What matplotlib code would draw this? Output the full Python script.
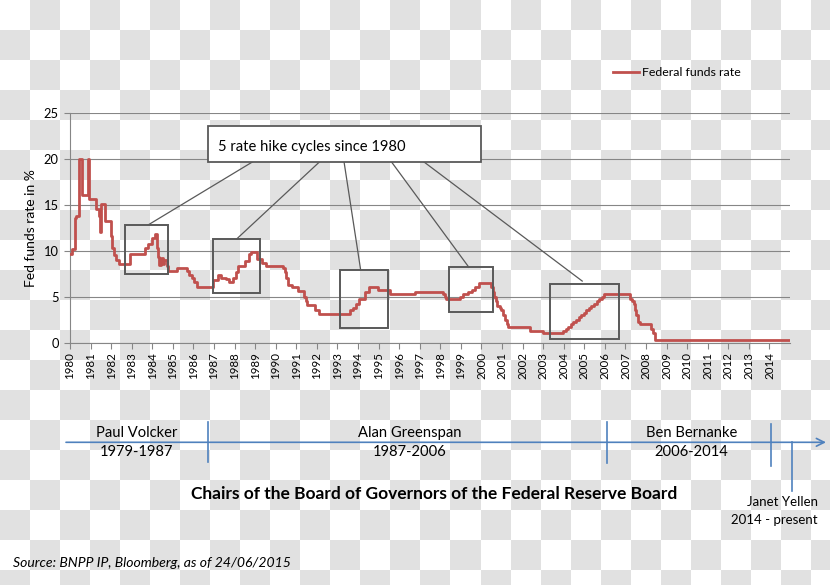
import numpy as np
import matplotlib
matplotlib.use("Agg")
import matplotlib.pyplot as plt
from matplotlib.colors import ListedColormap
from matplotlib.patches import Rectangle

plt.rcParams['font.family'] = ['Lato', 'DejaVu Sans']

# Federal funds rate (change date, new level in %)
dates = [1980.00, 1980.12, 1980.24, 1980.30, 1980.42, 1980.56, 1980.86, 1980.94,
         1981.25, 1981.40, 1981.44, 1981.50, 1981.72, 1981.98, 1982.05, 1982.12,
         1982.25, 1982.40, 1982.93, 1983.66, 1983.80, 1983.98, 1984.15, 1984.22,
         1984.28, 1984.35, 1984.42, 1984.50, 1984.58, 1984.70, 1984.78, 1985.18,
         1985.67, 1985.80, 1985.92, 1986.05, 1986.18, 1986.67, 1986.96, 1987.20,
         1987.32, 1987.60, 1987.75, 1987.92, 1988.05, 1988.15, 1988.52, 1988.68,
         1988.80, 1989.07, 1989.35, 1989.52, 1990.36, 1990.44, 1990.52, 1990.60,
         1990.80, 1991.10, 1991.38, 1991.45, 1991.50, 1991.90, 1992.10, 1993.60,
         1993.75, 1993.88, 1994.05, 1994.35, 1994.55, 1994.98, 1995.55, 1996.76,
         1998.15, 1998.22, 1998.30, 1998.94, 1999.12, 1999.35, 1999.55, 1999.70,
         1999.88, 2000.48, 2000.55, 2000.62, 2000.70, 2000.78, 2000.88, 2000.95,
         2001.05, 2001.15, 2001.22, 2001.30, 2002.34, 2002.97, 2003.96, 2004.09,
         2004.21, 2004.34, 2004.46, 2004.59, 2004.72, 2004.84, 2004.97, 2005.09,
         2005.22, 2005.35, 2005.47, 2005.60, 2005.72, 2005.85, 2005.98, 2007.20,
         2007.30, 2007.40, 2007.48, 2007.52, 2007.62, 2007.70, 2008.25, 2008.32,
         2008.42, 2015.00]
rates = [9.6, 10.2, 13.6, 13.8, 20.0, 16.1, 20.0, 15.6,
         14.5, 13.8, 12.0, 15.1, 13.2, 11.6, 10.3, 9.5,
         9.0, 8.6, 9.6, 10.3, 10.7, 11.4, 11.8, 10.3,
         9.3, 8.5, 9.2, 8.6, 9.0, 8.3, 7.8, 8.1,
         7.8, 7.4, 7.0, 6.6, 6.0, 6.1, 6.85, 7.4,
         7.0, 6.9, 6.6, 7.0, 7.7, 8.3, 8.9, 9.6,
         9.9, 9.1, 8.7, 8.3, 8.1, 7.7, 7.0, 6.3,
         6.0, 5.6, 5.0, 4.5, 4.1, 3.6, 3.1, 3.5,
         3.75, 4.25, 4.75, 5.5, 6.0, 5.75, 5.25, 5.5,
         5.25, 5.0, 4.75, 5.0, 5.25, 5.5, 5.75, 6.0,
         6.5, 6.0, 5.5, 5.0, 4.5, 4.0, 3.75, 3.5,
         3.0, 2.5, 2.0, 1.75, 1.25, 1.0, 1.25, 1.5,
         1.75, 2.0, 2.25, 2.5, 2.75, 3.0, 3.25, 3.5,
         3.75, 4.0, 4.25, 4.5, 4.75, 5.0, 5.25, 4.75,
         4.5, 4.25, 3.5, 3.0, 2.25, 2.0, 1.5, 1.0,
         0.25, 0.25]

years = list(range(1980, 2015))

# the five hike cycles: (start, end, low, high)
cycles = [(1982.67, 1984.77, 7.5, 12.8),
          (1986.96, 1989.26, 5.4, 11.3),
          (1993.11, 1995.48, 1.57, 7.9),
          (1998.42, 2000.57, 3.28, 8.2),
          (2003.31, 2006.71, 0.36, 6.43)]
# where each pointer leaves the callout box and where it lands
pointer_from = [1988.89, 1992.14, 1993.32, 1995.62, 1997.19]
pointer_to = [(1983.79, 12.8), (1988.11, 11.3), (1994.13, 7.9),
              (1999.39, 8.2), (2004.90, 6.7)]

chairs = ["Paul Volcker", "Alan Greenspan", "Ben Bernanke"]
terms = ["1979-1987", "1987-2006", "2006-2014"]

grid_col = '#868686'
red = '#C0504D'
blue = '#4F81BD'
dark = '#595959'

fig = plt.figure(figsize=(8.3, 5.85), dpi=100)

# checkered background
bg = fig.add_axes([0, 0, 1, 1], zorder=0)
cells = np.add.outer(np.arange(20), np.arange(28)) % 2
bg.imshow(cells, cmap=ListedColormap(['white', '#e1e1e1']),
          extent=(0, 840, 600, 0), interpolation='nearest', aspect='auto')
bg.set_xlim(0, 830)
bg.set_ylim(585, 0)
bg.axis('off')

ax = fig.add_axes([70 / 830, (585 - 342.6) / 585, 720 / 830, (342.6 - 113) / 585], zorder=1)
ax.set_facecolor('none')
ax.step(dates, rates, where='post', color=red, lw=2, label='Federal funds rate', zorder=3)

ax.set_xlim(1980, 2015)
ax.set_ylim(0, 25)
ax.set_xticks(years)
ax.set_xticklabels([str(y) for y in years], rotation=90, fontsize=8.3)
ax.set_yticks(range(0, 26, 5))
ax.tick_params(axis='y', labelsize=9.3, length=4, color=grid_col, pad=4)
ax.tick_params(axis='x', length=4, color=grid_col, pad=3)
ax.grid(axis='y', color=grid_col, lw=0.8)
ax.set_axisbelow(True)
for side in ['top', 'right']:
    ax.spines[side].set_visible(False)
for side in ['left', 'bottom']:
    ax.spines[side].set_color(grid_col)
    ax.spines[side].set_linewidth(0.8)
ax.set_ylabel('Fed funds rate in %', fontsize=10, labelpad=5)

# callout box and pointers
ax.add_patch(Rectangle((1986.70, 19.7), 13.26, 3.85, facecolor='white',
                       edgecolor=dark, lw=1.3, zorder=5, clip_on=False))
ax.text(1987.2, 20.85, '5 rate hike cycles since 1980', fontsize=10.6, zorder=6)
for x0, (x1, y1) in zip(pointer_from, pointer_to):
    ax.plot([x0, x1], [19.7, y1], color=dark, lw=0.9, zorder=4)
for x0, x1, y0, y1 in cycles:
    ax.add_patch(Rectangle((x0, y0), x1 - x0, y1 - y0, facecolor='none',
                           edgecolor=dark, lw=1.4, zorder=4))

ax.legend(loc='center left', bbox_to_anchor=(613 / 830, 1 - 73 / 585),
          bbox_transform=fig.transFigure, frameon=False, fontsize=8.95,
          handlelength=2.1, handletextpad=0.25, borderpad=0, borderaxespad=0)

# timeline of Fed chairs, drawn in pixel units
ov = fig.add_axes([0, 0, 1, 1], zorder=2)
ov.set_facecolor('none')
ov.set_xlim(0, 830)
ov.set_ylim(585, 0)
ov.axis('off')
ov.annotate('', xy=(826, 442.3), xytext=(66, 442.3),
            arrowprops=dict(arrowstyle='->', color=blue, lw=1.2,
                            mutation_scale=14, shrinkA=0, shrinkB=0))
for xv, ya, yb in [(208, 421.7, 462.3), (607.3, 422, 463), (771, 424, 466), (791.7, 442.3, 490.7)]:
    ov.plot([xv, xv], [ya, yb], color=blue, lw=1.2)
for name, term, xc in zip(chairs, terms, [137, 410, 691.5]):
    ov.text(xc, 433, name, ha='center', va='center', fontsize=10.6)
    ov.text(xc, 452, term, ha='center', va='center', fontsize=10.6)
ov.text(818, 502, 'Janet Yellen', ha='right', va='center', fontsize=9.5)
ov.text(818, 520.5, '2014 - present', ha='right', va='center', fontsize=9.5)
ov.text(434, 494, 'Chairs of the Board of Governors of the Federal Reserve Board',
        ha='center', va='center', fontsize=12.5, fontweight='bold')
ov.text(13, 563, 'Source: BNPP IP, Bloomberg, as of 24/06/2015', ha='left',
        va='center', fontsize=10.1, style='italic')

fig.savefig('out.png', dpi=100)
